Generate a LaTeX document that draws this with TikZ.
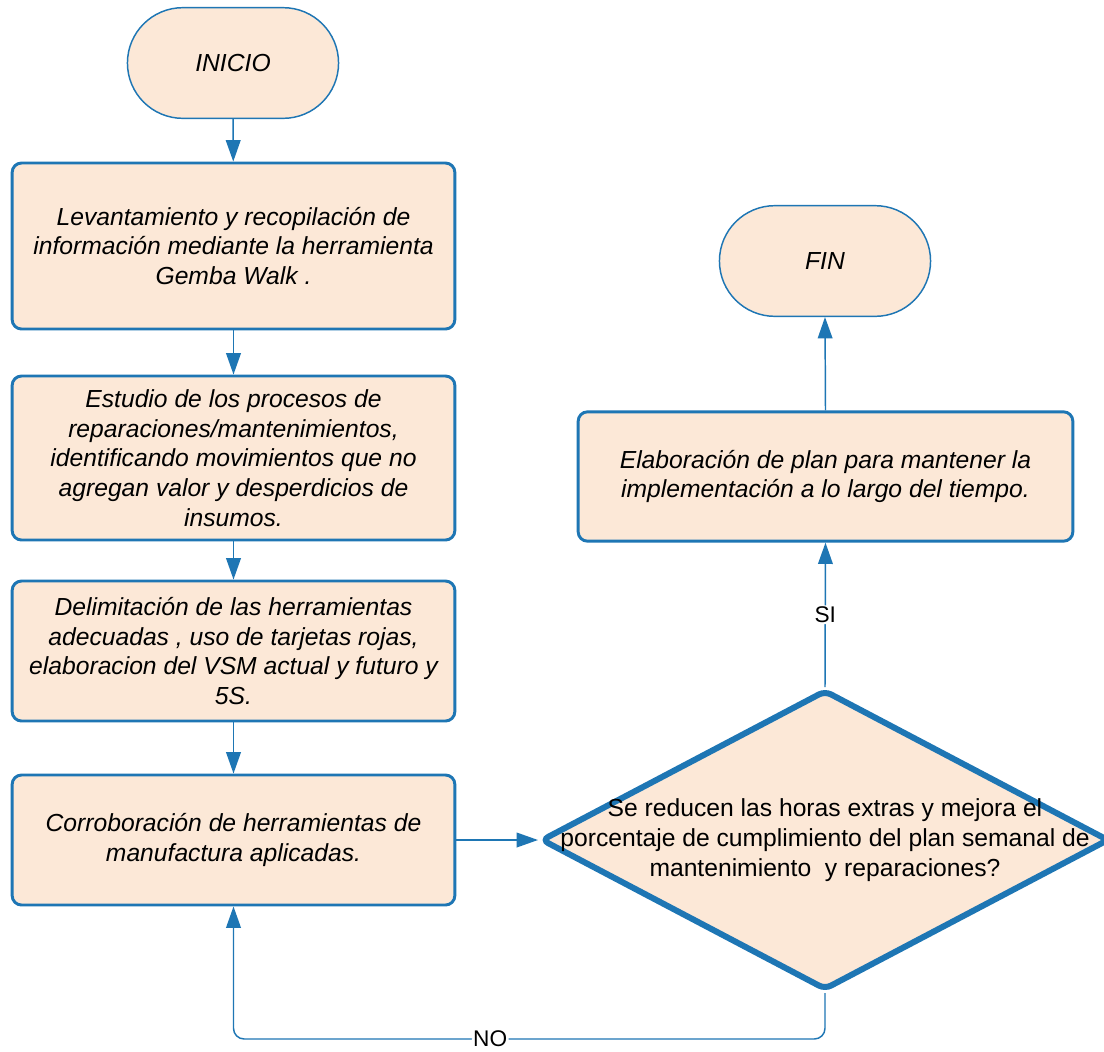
\documentclass[tikz,border=0pt]{standalone}
\usepackage{fontspec}
\setmainfont{Liberation Sans}
\usetikzlibrary{arrows.meta,shapes.misc,shapes.geometric}
\definecolor{flowblue}{RGB}{30,118,180}
\definecolor{peach}{RGB}{252,232,215}

\begin{document}
\begin{tikzpicture}[x=0.75pt,y=-0.75pt,
  process/.style={draw=flowblue, fill=peach, line width=2.2pt, rounded corners=7pt,
    minimum width=332pt, align=center, inner sep=0pt,
    font=\fontsize{18.5}{22.3}\selectfont\itshape},
  terminal/.style={draw=flowblue, fill=peach, line width=1.1pt, rounded rectangle,
    minimum width=165pt, minimum height=83pt,
    font=\fontsize{18.5}{22.3}\selectfont\itshape},
  decision/.style={draw=flowblue, fill=peach, line width=4.5pt, diamond,
    minimum width=426pt, minimum height=225pt, inner sep=0pt, rounded corners=5pt},
  dectext/.style={align=center, inner sep=0pt, font=\fontsize{18.5}{22.3}\selectfont},
  conn/.style={draw=flowblue, line width=1.1pt, rounded corners=8pt,
    -{Triangle[length=16pt,width=11pt]}},
  lbl/.style={fill=white, inner sep=1pt, font=\fontsize{17}{20}\selectfont}
]
\useasboundingbox[fill=white] (0,0) rectangle (1104,1051);

% left column
\node[terminal] (ini) at (233,63) {INICIO};
\node[process, minimum height=124.5pt] (b1) at (233.5,246)
  {Levantamiento y recopilación de\\información mediante la herramienta\\Gemba Walk .};
\node[process, minimum height=123pt] (b2) at (233.5,458)
  {Estudio de los procesos de\\reparaciones/mantenimientos,\\identificando movimientos que no\\agregan valor y desperdicios de\\insumos.};
\node[process, minimum height=105pt] (b3) at (233.5,651)
  {Delimitación de las herramientas\\adecuadas , uso de tarjetas rojas,\\elaboracion del VSM actual y futuro y\\5S.};
\node[process, minimum height=97.5pt] (b4) at (233.5,840)
  {Corroboración de herramientas de\\manufactura aplicadas.};

% right column
\node[terminal] (fin) at (825,261) {FIN};
\node[process, minimum width=371pt, minimum height=97pt] (b5) at (825.5,476.5)
  {Elaboración de plan para mantener la\\implementación a lo largo del tiempo.};
\node[decision] (dec) at (825,840) {};
\node[dectext] (q) at (dec.center)
  {Se reducen las horas extras y mejora el\\porcentaje de cumplimiento del plan semanal de\\mantenimiento~ y reparaciones?};

% connectors
\draw[conn] (ini) -- (b1);
\draw[conn] (b1) -- (b2);
\draw[conn] (b2) -- (b3);
\draw[conn] (b3) -- (b4);
\draw[conn] (b4.east) -- (dec.west);
\draw[conn] (dec.north) -- node[lbl] {SI} (b5.south);
\draw[conn] (b5.north) -- (fin.south);

% the NO branch returns under the decision to the last step
\coordinate (loopR) at (825,1039);
\coordinate (loopL) at (233.5,1039);
\draw[conn] (dec.south) -- (loopR) -- node[lbl, pos=0.566] {NO} (loopL) -- (b4.south);
\end{tikzpicture}
\end{document}
